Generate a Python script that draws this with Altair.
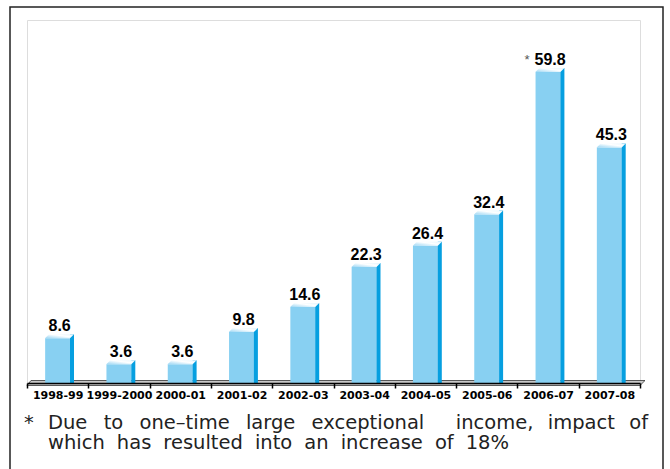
import altair as alt
import pandas as pd

years = ["1998-99", "1999-2000", "2000-01", "2001-02", "2002-03",
         "2003-04", "2004-05", "2005-06", "2006-07", "2007-08"]
values = [8.6, 3.6, 3.6, 9.8, 14.6, 22.3, 26.4, 32.4, 59.8, 45.3]
notes = ["", "", "", "", "", "", "", "", "*", ""]
footnote_star = "*"
NB = "\u00a0"
G1 = " " + NB + "\u2009"
footnote_line1a = G1.join(["Due", "to", "one–time", "large", "exceptional"])
footnote_line1b = (" " + NB + "\u200a").join(["income,", "impact", "of"])
G2 = " \u2009\u200a"
footnote_line2 = G2.join(["which", "has", "resulted", "into", "an", "increase", "of", "18%"])

df = pd.DataFrame({"year": years, "value": values, "note": notes})
df["label"] = df["value"].map(lambda v: f"{v:.1f}")

W, H = 613, 363
x = alt.X("year:N", sort=years,
          scale=alt.Scale(paddingInner=0, paddingOuter=0),
          axis=alt.Axis(title=None, labelAngle=0, tickBand="extent",
                        labelFont="DejaVu Sans", labelFontWeight="bold",
                        labelFontSize=11, labelColor="black", labelPadding=1,
                        tickSize=5, tickColor="black", tickWidth=1.5,
                        domainColor="black", domainWidth=1.5, grid=False,
                        zindex=1))
y = alt.Y("value:Q", scale=alt.Scale(domain=[0, H / 5.2], nice=False),
          axis=None)

base = alt.Chart(df)
one = "datum.year == '1998-99'"

frame = base.mark_rect(fill="transparent", stroke="#222222", strokeWidth=1.5).encode(
    x=alt.value(-17), x2=alt.value(636), y=alt.value(-13), y2=alt.value(490)
).transform_filter(one)

floor = base.mark_point(
    shape="M-1,0.0161L0.9839,0.0161L1,0L-0.9871,0Z",
    filled=True, fill="#C8C8C8", stroke="#333333", strokeWidth=0.8,
    opacity=1, size=(2 * 309) ** 2
).encode(x=alt.value(309), y=alt.value(360.5)).transform_filter(one)

front = base.mark_bar(width=25, color="#88D0F2").encode(x=x, y=y, y2=alt.datum(0))

side = base.mark_bar(width=4, xOffset=14.35, yOffset=-4, color="#069FE0").encode(
    x=x, y=y, y2=alt.datum(0))

top_face = base.mark_point(
    shape="M-1,0.138L0.724,0.138L1,-0.138L-0.724,-0.138Z",
    filled=True, opacity=1, strokeWidth=0, size=841,
    fill=alt.Gradient(gradient="linear",
                      stops=[alt.GradientStop(color="#9AD6F4", offset=0),
                             alt.GradientStop(color="#FFFFFF", offset=0.6),
                             alt.GradientStop(color="#E4F4FC", offset=1)],
                      x1=0, x2=1, y1=1, y2=0),
    xOffset=1.85, yOffset=-2
).encode(x=x, y=y)

labels = base.mark_text(font="Liberation Sans", fontWeight="bold", fontSize=16,
                        color="black", baseline="alphabetic", dy=-7, dx=2).encode(
    x=x, y=y, text="label:N")

stars = base.mark_text(font="Liberation Sans", fontSize=13, color="#555555",
                       baseline="alphabetic", dy=-8, dx=-21).encode(
    x=x, y=y, text="note:N")

FS = 19.5
foot_star = base.mark_text(font="DejaVu Sans", fontSize=FS, color="#222222",
                           align="left", baseline="alphabetic", text=footnote_star).encode(
    x=alt.value(-3), y=alt.value(45.5 + H)).transform_filter(one)
foot1a = base.mark_text(font="DejaVu Sans", fontSize=FS, color="#222222",
                        align="left", baseline="alphabetic", text=footnote_line1a).encode(
    x=alt.value(21), y=alt.value(45.5 + H)).transform_filter(one)
foot1b = base.mark_text(font="DejaVu Sans", fontSize=FS, color="#222222",
                        align="right", baseline="alphabetic", text=footnote_line1b).encode(
    x=alt.value(621), y=alt.value(45.5 + H)).transform_filter(one)
foot2 = base.mark_text(font="DejaVu Sans", fontSize=FS, color="#222222",
                       align="left", baseline="alphabetic", text=footnote_line2).encode(
    x=alt.value(21), y=alt.value(65.5 + H)).transform_filter(one)

chart = alt.layer(frame, floor, front, side, top_face, labels, stars,
                  foot_star, foot1a, foot1b, foot2).properties(
    width=W, height=H,
    autosize=alt.AutoSizeParams(type="none"),
    padding={"left": 27, "top": 20, "right": 30, "bottom": 86},
).configure_view(stroke=None).configure(background="white")

chart.save("out.html", embed_options={"renderer": "svg", "actions": False})
